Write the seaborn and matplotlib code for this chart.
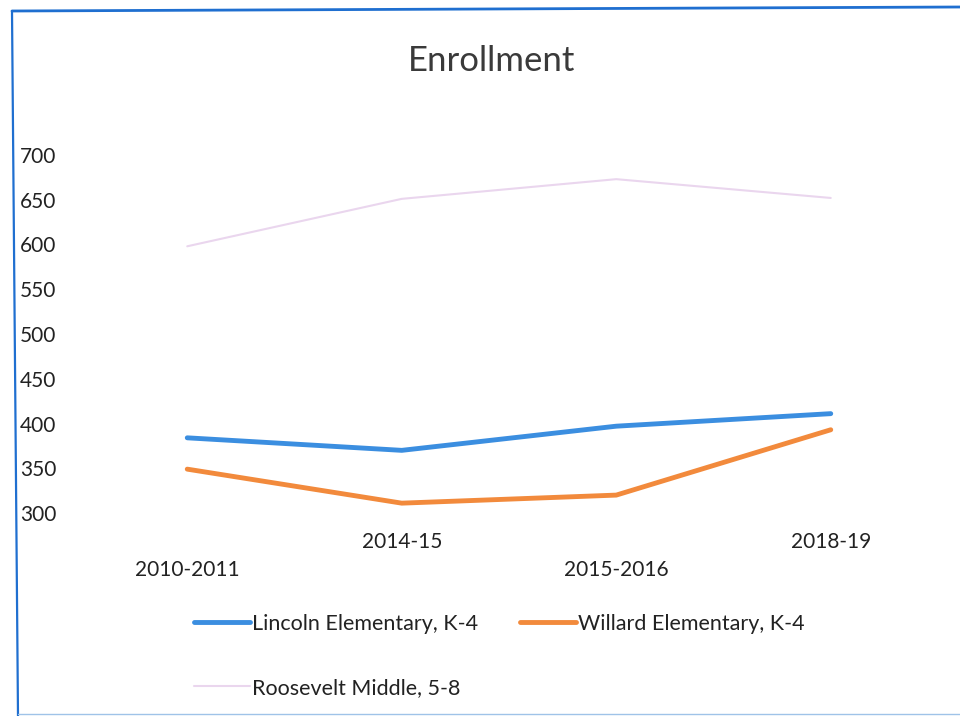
import matplotlib
matplotlib.use("Agg")
import matplotlib.pyplot as plt
import seaborn as sns
import pandas as pd
from matplotlib.lines import Line2D

years = ["2010-2011", "2014-15", "2015-2016", "2018-19"]
lincoln = [384, 370, 397, 411]
willard = [349, 311, 320, 393]
roosevelt = [598, 651, 673, 652]
yticks = [300, 350, 400, 450, 500, 550, 600, 650, 700]

sns.set_style("white")
plt.rcParams['font.family'] = ['Lato', 'DejaVu Sans']

fig = plt.figure(figsize=(9.6, 7.16), dpi=100)
W, H = 960, 716
ax = fig.add_axes([80 / W, 1 - 513 / H, (938 - 80) / W, (513 - 155) / H])

series = [
    ("Lincoln Elementary, K-4", lincoln, "#3b8ee0", 3.5),
    ("Willard Elementary, K-4", willard, "#f28a3c", 3.5),
    ("Roosevelt Middle, 5-8", roosevelt, "#ead6ee", 1.5),
]
for name, vals, col, lw in series:
    df = pd.DataFrame({"year": years, "value": vals})
    sns.lineplot(data=df, x="year", y="value", ax=ax, color=col, linewidth=lw,
                 solid_capstyle="round", label=name, sort=False)

ax.set_xlim(-0.5, 3.5)
ax.set_ylim(300, 700)
ax.set_xlabel("")
ax.set_ylabel("")
for s in ax.spines.values():
    s.set_visible(False)

ax.set_yticks(yticks)
ax.set_yticklabels([str(v) for v in yticks])
ax.tick_params(axis="y", length=0, pad=60 * 72 / 100, labelsize=15, colors="#222222")
for lab in ax.get_yticklabels():
    lab.set_horizontalalignment("left")

ax.set_xticks([0, 2])
ax.set_xticklabels([years[0], years[2]])
ax.set_xticks([1, 3], minor=True)
ax.set_xticklabels([years[1], years[3]], minor=True)
ax.tick_params(axis="x", which="major", length=0, pad=34, labelsize=15, colors="#222222")
ax.tick_params(axis="x", which="minor", length=0, pad=14, labelsize=15, colors="#222222")

fig.text(492 / W, 1 - 61 / H, "Enrollment", ha="center", va="center", fontsize=25, color="#3a3a3a")

handles, labels = ax.get_legend_handles_labels()
order = [0, 2, 1]
leg = fig.legend([handles[i] for i in order], [labels[i] for i in order],
                 loc="upper left", bbox_to_anchor=(185 / W, 1 - 605 / H), ncol=2, frameon=False,
                 fontsize=15.5, handlelength=2.6, handletextpad=0.1, labelspacing=2.05,
                 columnspacing=1.95, borderaxespad=0)
for t in leg.get_texts():
    t.set_color("#222222")
if ax.get_legend():
    ax.get_legend().remove()

# scanned frame border
fig.add_artist(Line2D([12 / W, 1.0], [1 - 11 / H, 1 - 7 / H], color="#1f6fd0", linewidth=2.0))
fig.add_artist(Line2D([12 / W, 18 / W], [1 - 11 / H, 0.0], color="#1f6fd0", linewidth=1.6))
fig.add_artist(Line2D([18 / W, 1.0], [1 - 714 / H, 1 - 714 / H], color="#9fc3e8", linewidth=1.0))

fig.savefig("out.png", dpi=100)
